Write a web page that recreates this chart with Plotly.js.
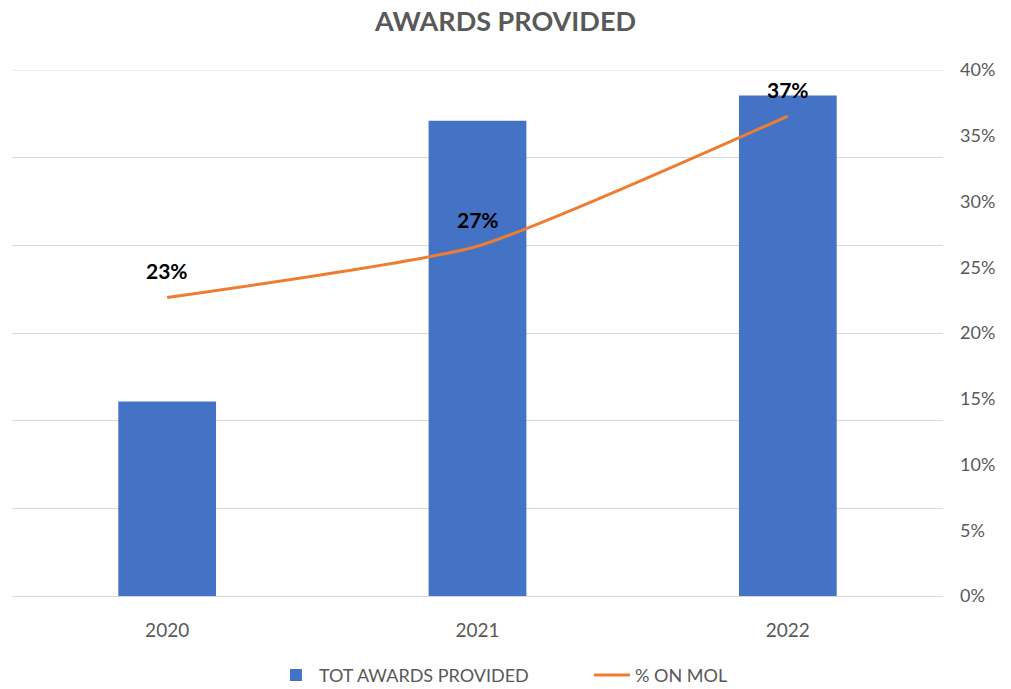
<!DOCTYPE html>
<html>
<head>
<meta charset="utf-8">
<script src="https://cdn.plot.ly/plotly-3.0.1.min.js"></script>
<style>html,body{margin:0;padding:0;background:#fff;}#chart{width:1011px;height:689px;}</style>
</head>
<body>
<div id="chart"></div>
<script>
const years = ['2020', '2021', '2022'];
const totAwards = [222, 542, 571];
const pctOnMol = [0.227, 0.266, 0.365];
const pctLabels = ['23%', '27%', '37%'];
const gridVals = [0, 100, 200, 300, 400, 500, 600];

const barTrace = {
  type: 'bar', x: years, y: totAwards, name: 'TOT AWARDS PROVIDED',
  marker: {color: '#4472C4'}, xaxis: 'x', yaxis: 'y', hoverinfo: 'skip'
};
const lineTrace = {
  type: 'scatter', mode: 'lines', x: years, y: pctOnMol, name: '% ON MOL',
  line: {color: '#ED7D31', width: 3, shape: 'spline', smoothing: 0.5}, xaxis: 'x', yaxis: 'y2'
};

const annotations = years.map((yr, i) => ({
  x: i, y: pctOnMol[i], xref: 'x', yref: 'y2', text: '<b>' + pctLabels[i] + '</b>',
  showarrow: false, yshift: 27, font: {family: 'Lato, Liberation Sans, sans-serif', size: 21, color: '#000'}
}));

const layout = {
  width: 1011, height: 689,
  margin: {l: 12, r: 68, t: 70, b: 93},
  paper_bgcolor: '#fff', plot_bgcolor: '#fff',
  font: {family: 'Lato, Liberation Sans, sans-serif', color: '#595959', size: 18},
  title: {text: '<b>AWARDS PROVIDED</b>', x: 0.5, xanchor: 'center', y: 0.968, yanchor: 'middle',
          font: {family: 'Liberation Sans Narrow, Lato, sans-serif', size: 27, color: '#595959'}},
  showlegend: true,
  legend: {orientation: 'h', xanchor: 'left', x: 0.2803, yref: 'container', y: 0.02, yanchor: 'middle',
           entrywidth: 265, entrywidthmode: 'pixels', itemwidth: 36,
           font: {size: 18, color: '#595959'}, traceorder: 'normal'},
  xaxis: {type: 'category', categoryarray: years, range: [-0.5, 2.5], automargin: false, showline: false, ticks: '',
          tickfont: {size: 19, color: '#595959'}, ticklabelstandoff: 21},
  yaxis: {range: [0, 600], tickvals: gridVals, showticklabels: false, showgrid: true,
          gridcolor: '#d9d9d9', gridwidth: 1, zeroline: true, zerolinecolor: '#d9d9d9', automargin: false},
  yaxis2: {overlaying: 'y', anchor: 'x', side: 'right', range: [0, 0.4], dtick: 0.05, tickformat: '.0%', showgrid: false,
           zeroline: false, automargin: false, tickfont: {size: 18, color: '#595959'}, ticks: '', ticklabelstandoff: 16},
  shapes: [{type: 'line', xref: 'paper', yref: 'y', x0: 0, x1: 1, y0: gridVals[gridVals.length - 1], y1: gridVals[gridVals.length - 1],
            line: {color: '#d9d9d9', width: 1}, layer: 'below'}],
  annotations: annotations,
  bargap: 0.685
};

Plotly.newPlot('chart', [barTrace, lineTrace], layout, {displayModeBar: false, staticPlot: true});
</script>
</body>
</html>
